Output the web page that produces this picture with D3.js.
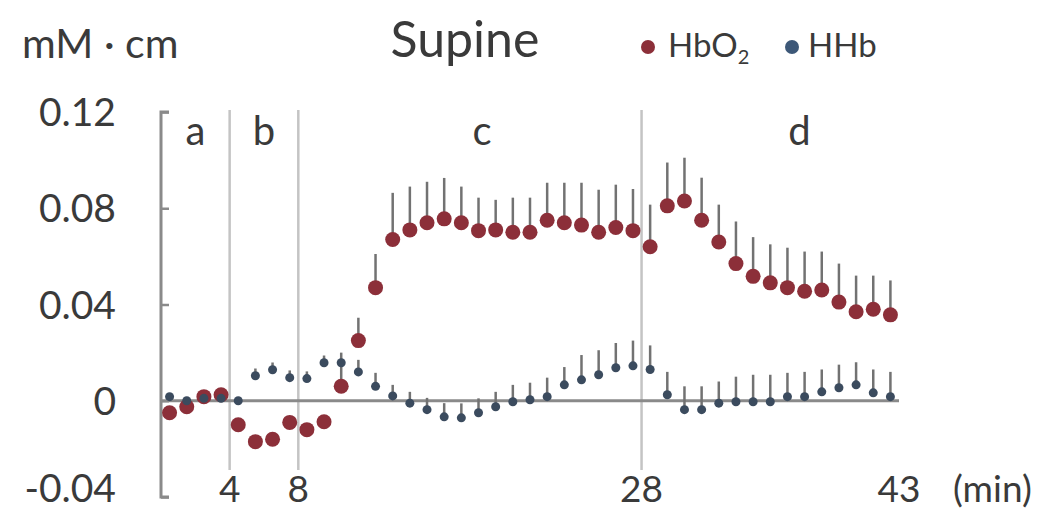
<!DOCTYPE html>
<html>
<head>
<meta charset="utf-8">
<script src="https://cdn.jsdelivr.net/npm/d3@7"></script>
<style>
  html, body { margin: 0; padding: 0; background: #fff; }
  svg { display: block; }
  text { font-family: Lato, "Open Sans", sans-serif; fill: #3a3a3a; }
</style>
</head>
<body>
<svg id="chart" width="1042" height="511"></svg>
<script>
// ---------- data ----------
const minutes = [0.5,1.5,2.5,3.5,4.5,5.5,6.5,7.5,8.5,9.5,10.5,11.5,12.5,13.5,14.5,15.5,16.5,17.5,18.5,19.5,20.5,21.5,22.5,23.5,24.5,25.5,26.5,27.5,28.5,29.5,30.5,31.5,32.5,33.5,34.5,35.5,36.5,37.5,38.5,39.5,40.5,41.5,42.5];
const hbo2 = [-0.005,-0.0025,0.0017,0.0025,-0.010,-0.017,-0.016,-0.009,-0.012,-0.0087,0.006,0.025,0.047,0.067,0.071,0.074,0.0756,0.074,0.0707,0.071,0.070,0.070,0.075,0.074,0.073,0.070,0.072,0.0707,0.064,0.081,0.083,0.075,0.066,0.057,0.0517,0.049,0.047,0.0455,0.046,0.041,0.037,0.038,0.0357];
const hbo2Err = [0.002,0.002,0.002,0.002,0.002,0.002,0.002,0.002,0.002,0.002,0.010,0.0095,0.014,0.0194,0.018,0.017,0.017,0.015,0.0137,0.0125,0.0144,0.0144,0.0156,0.0166,0.0176,0.0177,0.0178,0.0173,0.0175,0.018,0.018,0.0177,0.0155,0.0175,0.0163,0.016,0.0166,0.0165,0.016,0.016,0.015,0.014,0.0143];
const hhb = [0.0017,0.0,0.001,0.001,0.0,0.0104,0.0129,0.0096,0.0092,0.0158,0.0158,0.012,0.006,0.002,-0.001,-0.0037,-0.0067,-0.0071,-0.005,-0.0025,-0.0004,0.0004,0.0017,0.0066,0.0087,0.0108,0.0137,0.0145,0.013,0.0025,-0.0037,-0.0037,-0.001,-0.0004,-0.0004,-0.0004,0.0017,0.0017,0.0037,0.0054,0.0066,0.0033,0.0017];
const hhbErr = [0.001,0.001,0.001,0.001,0.001,0.003,0.003,0.003,0.003,0.003,0.0042,0.005,0.0056,0.0046,0.0047,0.0049,0.0057,0.006,0.006,0.0062,0.007,0.0071,0.0079,0.0074,0.0103,0.0102,0.0103,0.0105,0.010,0.0095,0.0097,0.0097,0.009,0.0104,0.0112,0.0112,0.0099,0.0103,0.0093,0.0096,0.0094,0.0097,0.0103];
const yTicks = [-0.04, 0, 0.04, 0.08, 0.12];
const yTickLabels = ["-0.04", "0", "0.04", "0.08", "0.12"];
const xTicks = [4, 8, 28, 43];
const phaseBounds = [4, 8, 28];
const phaseNames = ["a", "b", "c", "d"];
const phaseLabelAt = [2, 6, 18.7, 37.2];
const seriesNames = ["HbO", "HHb"];

// ---------- layout ----------
const svg = d3.select("#chart");
const x = d3.scaleLinear().domain([0, 43]).range([161, 899]);
const y = d3.scaleLinear().domain([-0.04, 0.12]).range([497, 112]);
const axisColor = "#8a8a8a";
const redC = "#8c2f39";
const blueC = "#3b4b5e";
const barC = "#727272";

// phase divider lines
svg.append("g").selectAll("line").data(phaseBounds).join("line")
  .attr("x1", d => x(d)).attr("x2", d => x(d))
  .attr("y1", y(0.12) - 2).attr("y2", 470)
  .attr("stroke", "#c4c4c4").attr("stroke-width", 2.5);

// y axis (ticks inward)
const yAxis = d3.axisRight(y).tickValues(yTicks).tickSize(8).tickFormat("");
const gy = svg.append("g").attr("transform", `translate(${x(0)},0)`).call(yAxis);
gy.select(".domain").attr("stroke", axisColor).attr("stroke-width", 3).attr("d", `M8,${y(0.12)}H0V${y(-0.04)}H8`);
gy.selectAll(".tick line").attr("stroke", axisColor).attr("stroke-width", 2.5);

// y labels (lowest one nudged up to stay inside the frame)
svg.append("g").selectAll("text").data(yTicks).join("text")
  .attr("x", 116).attr("y", d => Math.min(y(d) + 14, 502))
  .attr("text-anchor", "end").style("font-size", "39px")
  .text((d, i) => yTickLabels[i]);

// zero line
svg.append("line")
  .attr("x1", x(0)).attr("x2", x(43)).attr("y1", y(0)).attr("y2", y(0))
  .attr("stroke", axisColor).attr("stroke-width", 3);

// x labels
svg.append("g").selectAll("text").data(xTicks).join("text")
  .attr("x", d => x(d)).attr("y", 502)
  .attr("text-anchor", "middle").style("font-size", "37px")
  .text(d => d);
svg.append("text").attr("x", 953).attr("y", 502).style("font-size", "37px").text("(min)");

// phase labels
svg.append("g").selectAll("text").data(phaseNames).join("text")
  .attr("x", (d, i) => x(phaseLabelAt[i])).attr("y", 145)
  .attr("text-anchor", "middle").style("font-size", "40px")
  .text(d => d);

// series drawing
function drawSeries(vals, errs, color, r) {
  const g = svg.append("g");
  g.selectAll("line").data(vals).join("line")
    .attr("x1", (d, i) => x(minutes[i])).attr("x2", (d, i) => x(minutes[i]))
    .attr("y1", d => y(d)).attr("y2", (d, i) => y(d + errs[i]))
    .attr("stroke", barC).attr("stroke-width", 2.5);
  g.selectAll("circle").data(vals).join("circle")
    .attr("cx", (d, i) => x(minutes[i])).attr("cy", d => y(d))
    .attr("r", r).attr("fill", color);
}
drawSeries(hbo2, hbo2Err, redC, 7.5);
drawSeries(hhb, hhbErr, blueC, 4.5);

// titles
svg.append("text").attr("x", 22).attr("y", 58).style("font-size", "41px").text("mM \u00B7 cm");
svg.append("text").attr("x", 465).attr("y", 57).attr("text-anchor", "middle").style("font-size", "50px").text("Supine");

// legend
const lg = svg.append("g");
lg.append("circle").attr("cx", 648).attr("cy", 47).attr("r", 7).attr("fill", redC);
const t1 = lg.append("text").attr("x", 668).attr("y", 57).style("font-size", "33px");
t1.append("tspan").text(seriesNames[0]);
t1.append("tspan").attr("dy", 7).style("font-size", "20px").text("2");
lg.append("circle").attr("cx", 792).attr("cy", 47).attr("r", 7).attr("fill", "#3d5878");
lg.append("text").attr("x", 808).attr("y", 57).style("font-size", "33px").text(seriesNames[1]);
</script>
</body>
</html>
